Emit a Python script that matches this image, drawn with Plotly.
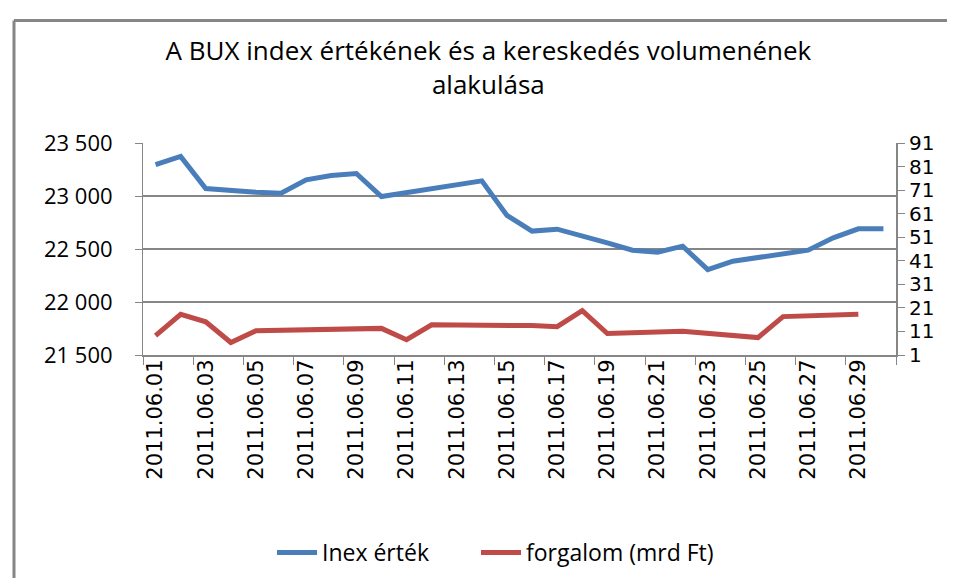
import plotly.graph_objects as go

# ---- data ----
index_dates = ["2011-06-01", "2011-06-02", "2011-06-03", "2011-06-04", "2011-06-05",
               "2011-06-06", "2011-06-07", "2011-06-08", "2011-06-09", "2011-06-10",
               "2011-06-14", "2011-06-15", "2011-06-16", "2011-06-17", "2011-06-18",
               "2011-06-19", "2011-06-20", "2011-06-21", "2011-06-22", "2011-06-23",
               "2011-06-24", "2011-06-25", "2011-06-26", "2011-06-27", "2011-06-28",
               "2011-06-29", "2011-06-30"]
index_values = [23295, 23373, 23071, 23049, 23036,
                23026, 23153, 23193, 23212, 22995,
                23143, 22817, 22669, 22687, 22627,
                22557, 22489, 22470, 22527, 22305,
                22385, 22416, 22447, 22489, 22605,
                22690, 22690]

volume_dates = ["2011-06-01", "2011-06-02", "2011-06-03", "2011-06-04", "2011-06-05",
                "2011-06-10", "2011-06-11", "2011-06-12", "2011-06-16", "2011-06-17",
                "2011-06-18", "2011-06-19", "2011-06-22", "2011-06-25", "2011-06-26",
                "2011-06-29"]
volume_values = [9.2, 18.3, 15.1, 6.3, 11.3,
                 12.3, 7.5, 13.8, 13.5, 13.0,
                 19.8, 10.1, 11.1, 8.4, 17.3,
                 18.3]

tick_dates = ["2011-06-%02d" % d for d in range(1, 30, 2)]
tick_labels = ["2011.06.%02d" % d for d in range(1, 30, 2)]

title_text = "A BUX index értékének és a kereskedés volumenének<br>alakulása"
name_index = "Inex érték"
name_volume = "forgalom (mrd Ft)"

# ---- layout geometry ----
W, H = 955, 578
L, R = 135, 888
T, B = 135.5, 347.5


def px(x):
    return (x - L) / (R - L)


def py(y):
    return (B - y) / (B - T)


GRAY = "#868686"
TEXT_FONT = "Open Sans, Liberation Sans, sans-serif"
TICK_FONT = "DejaVu Sans, Verdana, sans-serif"

fig = go.Figure()
fig.add_trace(go.Scatter(
    x=index_dates, y=index_values, name=name_index, mode="lines",
    line=dict(color="#4A7EBB", width=5), yaxis="y", legend="legend"))
fig.add_trace(go.Scatter(
    x=volume_dates, y=volume_values, name=name_volume, mode="lines",
    line=dict(color="#BE4B48", width=5), yaxis="y2", legend="legend2"))

legend_common = dict(orientation="h", yanchor="middle", xanchor="left",
                     font=dict(family=TEXT_FONT, size=23, color="black"),
                     bgcolor="rgba(0,0,0,0)", itemwidth=40)

fig.update_layout(
    width=W, height=H, autosize=False,
    paper_bgcolor="white", plot_bgcolor="white",
    margin=dict(l=L, r=W - R, t=T, b=H - B, pad=0),
    separators=", ",
    title=dict(text=title_text, x=0.503, xref="container", xanchor="center",
               y=1 - 52 / H, yref="container", yanchor="top",
               font=dict(family=TEXT_FONT, size=26, color="black")),
    xaxis=dict(
        type="date",
        range=["2011-05-31 12:00", "2011-06-30 12:00"],
        tickmode="array", tickvals=tick_dates, ticktext=tick_labels,
        tickangle=-90, ticks="", ticklabelstandoff=-6,
        tickfont=dict(family=TICK_FONT, size=21, color="black"),
        showline=True, linecolor=GRAY, linewidth=2,
        showgrid=False, zeroline=False,
        minor=dict(ticks="outside", ticklen=8, tickcolor=GRAY, tickwidth=1,
                   tick0="2011-05-31 12:00", dtick=172800000, showgrid=False),
    ),
    yaxis=dict(
        range=[21500, 23500], tickmode="linear", tick0=21500, dtick=500,
        tickformat=",d",
        ticks="outside", ticklen=7, tickcolor=GRAY, ticklabelstandoff=18,
        tickfont=dict(family=TEXT_FONT, size=22, color="black"),
        showline=True, linecolor=GRAY, linewidth=1,
        showgrid=True, gridcolor=GRAY, gridwidth=2, zeroline=False,
    ),
    yaxis2=dict(
        overlaying="y", side="right",
        range=[1, 91], tickmode="linear", tick0=1, dtick=10,
        ticks="outside", ticklen=7, tickcolor=GRAY,
        tickfont=dict(family=TICK_FONT, size=20, color="black"),
        showline=True, linecolor=GRAY, linewidth=2,
        showgrid=False, zeroline=False,
    ),
    legend=dict(x=px(264), y=py(546), **legend_common),
    legend2=dict(x=px(468), y=py(546), **legend_common),
    showlegend=True,
    shapes=[
        dict(type="line", xref="paper", yref="paper",
             x0=px(6), x1=px(6), y0=py(13), y1=py(580),
             line=dict(color=GRAY, width=3)),
        dict(type="line", xref="paper", yref="paper",
             x0=px(6), x1=px(945), y0=py(13), y1=py(13),
             line=dict(color=GRAY, width=3)),
    ],
)

fig.write_html("out.html")
